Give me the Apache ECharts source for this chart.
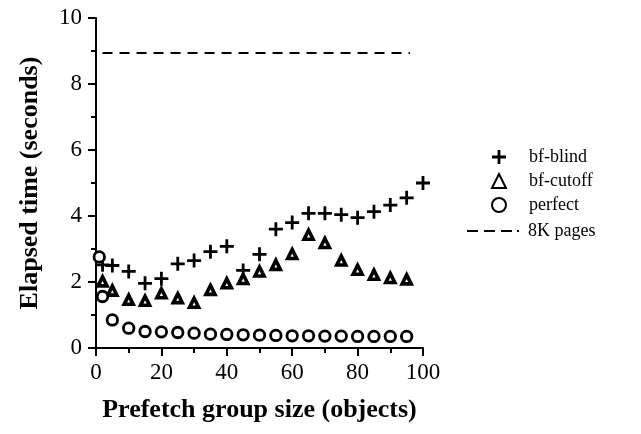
<!DOCTYPE html>
<html>
<head>
<meta charset="utf-8">
<script src="https://cdn.jsdelivr.net/npm/echarts@6/dist/echarts.min.js"></script>
<style>
html,body{margin:0;padding:0;background:#fff;}
#chart{width:641px;height:434px;}
</style>
</head>
<body>
<div id="chart"></div>
<script>
var seriesNames = ['bf-blind', 'bf-cutoff', 'perfect', '8K pages'];
var blindX = [2, 5, 10, 15, 20, 25, 30, 35, 40, 45, 50, 55, 60, 65, 70, 75, 80, 85, 90, 95, 100];
var blindY = [2.52, 2.5, 2.32, 1.96, 2.1, 2.55, 2.65, 2.92, 3.08, 2.35, 2.84, 3.6, 3.8, 4.08, 4.08, 4.04, 3.95, 4.13, 4.33, 4.55, 5.0];
var cutoffX = [2, 5, 10, 15, 20, 25, 30, 35, 40, 45, 50, 55, 60, 65, 70, 75, 80, 85, 90, 95];
var cutoffY = [2.02, 1.74, 1.46, 1.43, 1.66, 1.51, 1.37, 1.76, 1.96, 2.09, 2.32, 2.52, 2.85, 3.43, 3.18, 2.65, 2.37, 2.22, 2.12, 2.08];
var perfectX = [1, 2, 5, 10, 15, 20, 25, 30, 35, 40, 45, 50, 55, 60, 65, 70, 75, 80, 85, 90, 95];
var perfectY = [2.76, 1.56, 0.85, 0.6, 0.5, 0.49, 0.47, 0.45, 0.42, 0.41, 0.4, 0.39, 0.38, 0.37, 0.37, 0.36, 0.36, 0.35, 0.35, 0.35, 0.35];
var pagesX = [2, 96];
var pagesY = [8.94, 8.94];
var xTicks = [0, 20, 40, 60, 80, 100];
var yTicks = [0, 2, 4, 6, 8, 10];

function pairs(xs, ys) { return xs.map(function (x, i) { return [x, ys[i]]; }); }

var plusPath = 'path://M4,0L6,0L6,4L10,4L10,6L6,6L6,10L4,10L4,6L0,6L0,4L4,4Z';
var dashPath = 'path://M0,0L11,0L11,2L0,2Z M17,0L28,0L28,2L17,2Z M34,0L45,0L45,2L34,2Z M50,0L52,0L52,2L50,2Z';
var serif = '"Liberation Serif", "DejaVu Serif", serif';
var legendText = {fontFamily: serif, fontSize: 18, color: '#000'};

var chart = echarts.init(document.getElementById('chart'), null, {renderer: 'canvas'});
chart.setOption({
  animation: false,
  backgroundColor: '#fff',
  grid: {left: 96, right: 218, top: 18, bottom: 86},
  legend: [
    {
      orient: 'vertical', left: 486, top: 143,
      itemWidth: 14, itemHeight: 14, itemGap: 6,
      data: [
        {name: seriesNames[0], icon: plusPath},
        {name: seriesNames[1]},
        {name: seriesNames[2]}
      ],
      textStyle: Object.assign({padding: [0, 0, 0, 18]}, legendText)
    },
    {
      orient: 'vertical', left: 462, top: 217,
      itemWidth: 52, itemHeight: 2,
      data: [{name: seriesNames[3], icon: dashPath,
        itemStyle: {color: '#000', borderWidth: 0},
        lineStyle: {width: 0}}],
      textStyle: Object.assign({padding: [0, 0, 0, 4]}, legendText)
    }
  ],
  xAxis: {
    type: 'value', min: 0, max: 100, interval: 20,
    name: 'Prefetch group size (objects)',
    nameLocation: 'middle', nameGap: 49,
    nameTextStyle: {fontFamily: serif, fontSize: 26, fontWeight: 'bold', color: '#000'},
    axisLine: {show: true, onZero: false, lineStyle: {color: '#000', width: 2}},
    axisTick: {show: true, inside: false, length: 8, lineStyle: {color: '#000', width: 2}},
    minorTick: {show: true, splitNumber: 2, length: 5, lineStyle: {color: '#000', width: 2}},
    splitLine: {show: false},
    axisLabel: {fontFamily: serif, fontSize: 23, color: '#000', margin: 13,
      formatter: function (v) { return xTicks.indexOf(v) >= 0 ? String(v) : ''; }}
  },
  yAxis: {
    type: 'value', min: 0, max: 10, interval: 2,
    name: 'Elapsed time (seconds)',
    nameLocation: 'middle', nameGap: 53, nameRotate: 90,
    nameTextStyle: {fontFamily: serif, fontSize: 26, fontWeight: 'bold', color: '#000'},
    axisLine: {show: true, onZero: false, lineStyle: {color: '#000', width: 2}},
    axisTick: {show: true, inside: false, length: 8, lineStyle: {color: '#000', width: 2}},
    minorTick: {show: true, splitNumber: 2, length: 5, lineStyle: {color: '#000', width: 2}},
    splitLine: {show: false},
    axisLabel: {fontFamily: serif, fontSize: 23, color: '#000', margin: 14,
      formatter: function (v) { return yTicks.indexOf(v) >= 0 ? String(v) : ''; }}
  },
  series: [
    {
      name: seriesNames[0], type: 'scatter', data: pairs(blindX, blindY),
      symbol: plusPath, symbolSize: 14,
      itemStyle: {color: '#000', opacity: 1}
    },
    {
      name: seriesNames[1], type: 'scatter', data: pairs(cutoffX, cutoffY),
      symbol: 'triangle', symbolSize: 9,
      itemStyle: {color: '#fff', borderColor: '#000', borderWidth: 3.6, opacity: 1}
    },
    {
      name: seriesNames[2], type: 'scatter', data: pairs(perfectX, perfectY),
      symbol: 'circle', symbolSize: 10.5,
      itemStyle: {color: '#fff', borderColor: '#000', borderWidth: 2.8, opacity: 1}
    },
    {
      name: seriesNames[3], type: 'line', data: pairs(pagesX, pagesY),
      symbol: 'none',
      lineStyle: {color: '#000', width: 2, type: [10, 7]},
      itemStyle: {color: '#000'}
    }
  ]
});
</script>
</body>
</html>
